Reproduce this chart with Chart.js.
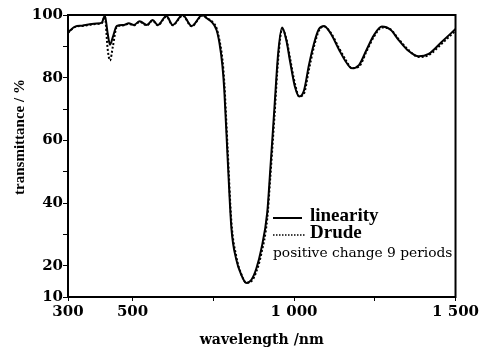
<!DOCTYPE html>
<html>
<head>
<meta charset="utf-8">
<script src="https://cdn.jsdelivr.net/npm/chart.js@4.4.0/dist/chart.umd.min.js"></script>
<style>
  body { margin: 0; background: #fff; }
  #wrap { width: 481px; height: 350px; }
</style>
</head>
<body>
<div id="wrap"><canvas id="transChart" width="481" height="350"></canvas></div>
<script>
// wavelength (nm) sampled along the curves
const wavelength = [300, 322, 343, 374, 393, 405, 414, 423, 430, 439, 451, 473, 488, 504, 522, 544, 562, 578, 605, 624,
    655, 683, 716, 732, 744, 760, 769, 778, 784, 794, 806, 821, 837, 852, 868, 883, 898, 917, 926, 939,
    951, 963, 976, 988, 1003, 1016, 1031, 1046, 1062, 1077, 1093, 1114, 1139, 1161, 1179, 1201, 1225, 1247, 1272, 1299,
    1324, 1355, 1386, 1417, 1457, 1500];
const linearity = [94.5, 96.3, 96.6, 97.1, 97.3, 97.6, 99.8, 94, 90.5, 93, 96.5, 96.8, 97.4, 96.8, 98, 96.8, 98.4, 96.8, 99.7, 96.8,
    100, 96.5, 100, 98.8, 97.9, 95.2, 91, 84, 76, 55, 32, 22, 17, 14.5, 15.5, 19, 25, 37, 50, 70,
    88, 96, 92, 85, 77, 74, 76, 84, 91, 95.5, 96.5, 94, 89, 85, 83, 84, 89, 93.5, 96.3, 95.3,
    92, 88.5, 86.8, 87.6, 91.4, 95.5];
const drude = [94.3, 96.2, 96.5, 97, 97.2, 97.4, 99.5, 89, 85.5, 90, 96.2, 96.7, 97.2, 96.7, 97.8, 96.7, 98.2, 96.7, 99.5, 96.7,
    99.8, 96.4, 99.8, 98.9, 98.1, 95.8, 92, 86, 78.5, 58, 34, 23, 17.2, 14.5, 15, 18, 23.5, 35, 47.5, 67,
    86, 95.5, 92.5, 86, 78, 74, 75, 82.5, 90, 95, 96.3, 94.3, 89.5, 85.5, 83, 83.5, 88.5, 93, 96, 95.4,
    92.3, 88.8, 86.6, 87.2, 90.8, 95];
const seriesNames = ['linearity', 'Drude'];
const note = 'positive change 9 periods';
const xTicks = [300, 500, 750, 1000, 1250, 1500];
const xLabelled = [300, 500, 1000, 1500];
const yTicks = [10, 20, 30, 40, 50, 60, 70, 80, 90, 100];
const yLabelled = [10, 20, 40, 60, 80, 100];

function fmt(v) {
    const s = String(v);
    return s.length > 3 ? s.slice(0, s.length - 3) + ' ' + s.slice(-3) : s;
}

const tickFont = { family: 'DejaVu Serif', size: 15, weight: 'bold' };

const framePlugin = {
    id: 'framePlugin',
    afterDraw(chart) {
        const { ctx, chartArea: a } = chart;
        ctx.save();
        ctx.strokeStyle = '#000';
        ctx.lineWidth = 2;
        ctx.strokeRect(a.left, a.top, a.right - a.left, a.bottom - a.top);

        // y axis title
        ctx.save();
        ctx.translate(20, 137);
        ctx.rotate(-Math.PI / 2);
        ctx.fillStyle = '#000';
        ctx.font = 'bold 15px "Liberation Serif"';
        ctx.textAlign = 'center';
        ctx.textBaseline = 'middle';
        ctx.fillText('transmittance / %', 0, 0);
        ctx.restore();

        // legend inside plot
        const lx = a.left + 205, ly = a.top + 203;
        ctx.fillStyle = '#000';
        ctx.lineWidth = 2;
        ctx.beginPath();
        ctx.moveTo(lx, ly);
        ctx.lineTo(lx + 29, ly);
        ctx.stroke();
        ctx.setLineDash([1.5, 1.5]);
        ctx.lineWidth = 1.5;
        ctx.beginPath();
        ctx.moveTo(lx, ly + 17);
        ctx.lineTo(lx + 33, ly + 17);
        ctx.stroke();
        ctx.setLineDash([]);
        ctx.textBaseline = 'middle';
        ctx.textAlign = 'left';
        ctx.font = 'bold 19px "Liberation Serif"';
        ctx.fillText(seriesNames[0], lx + 37, ly - 2);
        ctx.fillText(seriesNames[1], lx + 37, ly + 15);
        ctx.font = '13.8px "DejaVu Serif"';
        ctx.fillText(note, lx, ly + 35);
        ctx.restore();
    }
};

new Chart(document.getElementById('transChart'), {
    type: 'line',
    data: {
        datasets: [{
            label: seriesNames[1],
            data: wavelength.map((w, i) => ({ x: w, y: drude[i] })),
            borderColor: '#000',
            borderWidth: 2,
            borderDash: [2, 2],
            pointRadius: 0,
            cubicInterpolationMode: 'monotone',
            fill: false
        }, {
            label: seriesNames[0],
            data: wavelength.map((w, i) => ({ x: w, y: linearity[i] })),
            borderColor: '#000',
            borderWidth: 2,
            pointRadius: 0,
            cubicInterpolationMode: 'monotone',
            fill: false
        }]
    },
    options: {
        responsive: false,
        animation: false,
        layout: { padding: { top: 15, right: 24, left: 0, bottom: 0 } },
        plugins: {
            legend: { display: false },
            tooltip: { enabled: false }
        },
        scales: {
            x: {
                type: 'linear',
                min: 300,
                max: 1500,
                afterBuildTicks: axis => { axis.ticks = xTicks.map(v => ({ value: v })); },
                afterFit: axis => { axis.height = 53; },
                border: { color: '#000', width: 2 },
                grid: { drawOnChartArea: false, color: '#000', tickLength: 4 },
                ticks: {
                    color: '#000',
                    font: tickFont,
                    padding: 2,
                    maxRotation: 0,
                    autoSkip: false,
                    callback: v => xLabelled.includes(v) ? fmt(v) : ''
                },
                title: {
                    display: true,
                    text: 'wavelength /nm',
                    color: '#000',
                    font: { family: 'DejaVu Serif', size: 14, weight: 'bold' },
                    padding: { top: 0, bottom: 1 }
                }
            },
            y: {
                min: 10,
                max: 100,
                afterBuildTicks: axis => { axis.ticks = yTicks.map(v => ({ value: v })); },
                afterFit: axis => { axis.width = 68; },
                border: { color: '#000', width: 2 },
                grid: { drawOnChartArea: false, color: '#000', tickLength: 5 },
                ticks: {
                    color: '#000',
                    font: tickFont,
                    padding: 0,
                    autoSkip: false,
                    callback: v => yLabelled.includes(v) ? String(v) : ''
                }
            }
        }
    },
    plugins: [framePlugin]
});
</script>
</body>
</html>
